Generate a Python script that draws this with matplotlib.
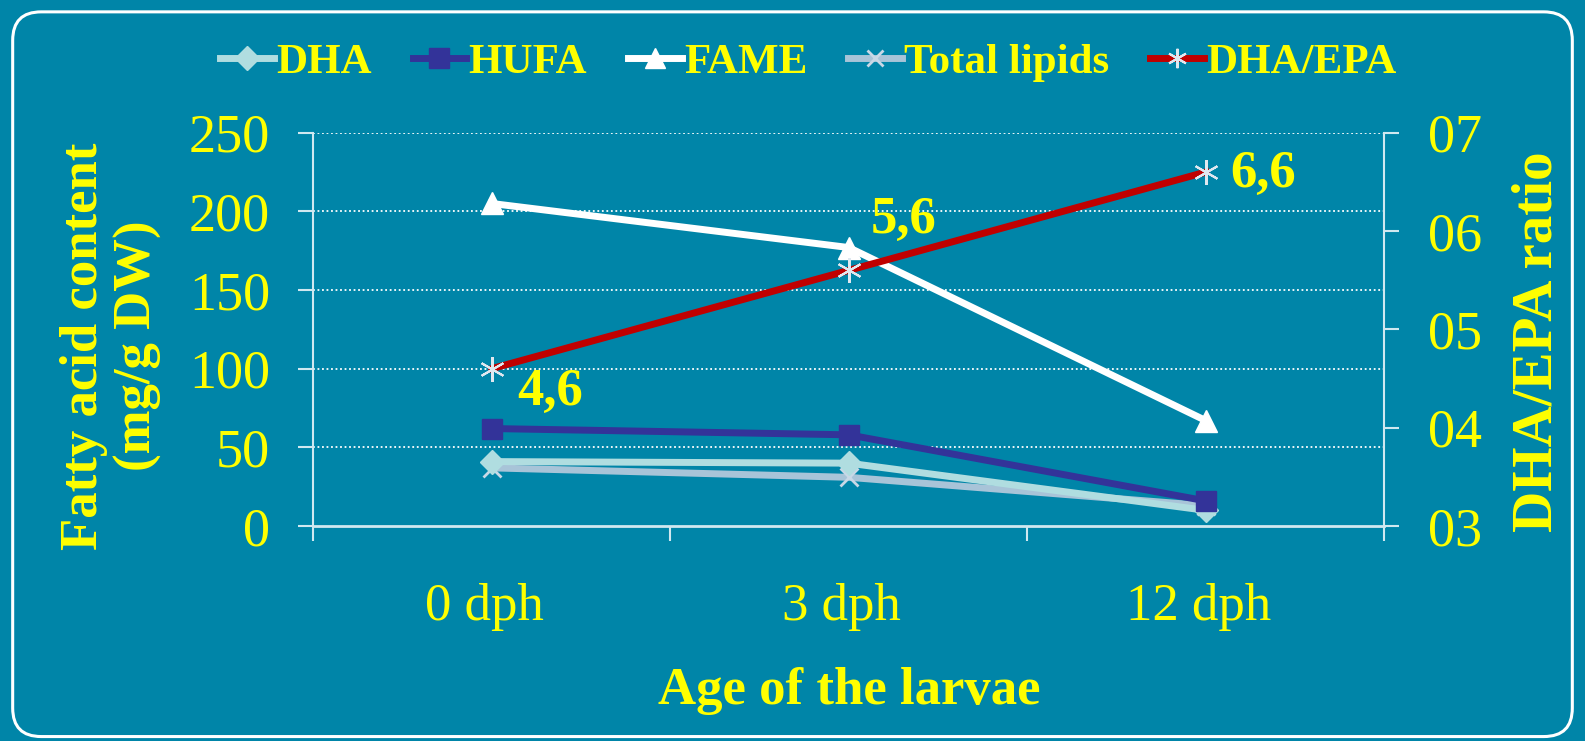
import matplotlib
matplotlib.use("Agg")
import matplotlib.pyplot as plt
from matplotlib.patches import FancyBboxPatch
from matplotlib.lines import Line2D

categories = ["0 dph", "3 dph", "12 dph"]
dha = [41, 40, 10]
hufa = [62, 58, 16]
fame = [205, 177, 67]
total_lipids = [37, 31, 13]
dha_epa = [4.6, 5.6, 6.6]
dha_epa_labels = ["4,6", "5,6", "6,6"]
left_ticks = [0, 50, 100, 150, 200, 250]
right_ticks = [3, 4, 5, 6, 7]
right_tick_labels = ["03", "04", "05", "06", "07"]

BG = "#0085A8"
YEL = "#FFFF00"
TICKC = "#D0E8F0"
FONT = "Liberation Serif"

fig = plt.figure(figsize=(15.85, 7.41), dpi=100, facecolor=BG)
border = FancyBboxPatch((0.008, 0.006), 0.984, 0.978,
                        boxstyle="round,pad=0,rounding_size=0.018",
                        transform=fig.transFigure, facecolor="none",
                        edgecolor="white", linewidth=2.2, mutation_aspect=15.85/7.41)
fig.patches.append(border)

ax = fig.add_axes([0.1975, 0.29, 0.676, 0.531])
ax.set_facecolor(BG)
x = [0, 1, 2]
ax.set_xlim(-0.5, 2.5)
ax.set_ylim(0, 250)

LW = 5
ax.plot(x, total_lipids, color="#A8C4D8", lw=LW, marker="x", ms=13, mew=2,
        mec="#C8D8E6", zorder=3)
ax.plot(x, dha, color="#B0DDE0", lw=LW, marker="D", ms=12, zorder=4)
ax.plot(x, hufa, color="#333399", lw=LW, marker="s", ms=15, zorder=5)
ax.plot(x, fame, color="white", lw=LW, marker="^", ms=16, zorder=5)

ax2 = ax.twinx()
ax2.set_ylim(3, 7)
ax2.plot(x, dha_epa, color="#C00000", lw=LW, marker=(6, 2, 0), ms=18, mew=1.5,
         mec="#E0E8F0", zorder=6)
offsets = [(0.073, -0.24), (0.062, 0.51), (0.067, -0.02)]
for xi, yi, lab, (dx, dy) in zip(x, dha_epa, dha_epa_labels, offsets):
    ax2.text(xi + dx, yi + dy, lab, color=YEL, fontsize=38, fontweight="bold",
             family=FONT, va="center", ha="left")

for a in (ax, ax2):
    for s in a.spines.values():
        s.set_visible(False)

ax.spines["left"].set_visible(True)
ax.spines["left"].set_color(TICKC)
ax.spines["left"].set_linewidth(1.5)
ax.spines["bottom"].set_visible(True)
ax.spines["bottom"].set_color(TICKC)
ax.spines["bottom"].set_linewidth(2)
ax2.spines["right"].set_visible(True)
ax2.spines["right"].set_color(TICKC)
ax2.spines["right"].set_linewidth(1.5)

ax.set_yticks(left_ticks)
ax.set_yticklabels([str(t) for t in left_ticks])
ax2.set_yticks(right_ticks)
ax2.set_yticklabels(right_tick_labels)
for a in (ax, ax2):
    a.tick_params(axis="y", colors=TICKC, labelcolor=YEL, labelsize=39,
                  length=11, width=1.5, direction="out", pad=20)
    for lab in a.get_yticklabels():
        lab.set_family(FONT)

ax.set_xticks([-0.5, 0.5, 1.5, 2.5])
ax.set_xticklabels([])
ax.tick_params(axis="x", colors=TICKC, length=11, width=1.5, direction="out")
for xi, c in zip(x, categories):
    ax.text(xi - 0.02, -0.205, c, transform=ax.get_xaxis_transform(), ha="center",
            va="center", color=YEL, fontsize=38, family=FONT)

for t in [50, 100, 150, 200, 250]:
    ax.axhline(t, color="white", lw=1.3, ls=(0, (1, 1.5)), zorder=1)

fig.text(0.536, 0.067, "Age of the larvae", color=YEL, fontsize=38,
         fontweight="bold", family=FONT, ha="center", va="center")
fig.text(0.070, 0.533, "Fatty acid content\n(mg/g DW)", color=YEL, fontsize=38,
         fontweight="bold", family=FONT, ha="center", va="center", rotation=90,
         linespacing=1.15)
fig.text(0.970, 0.539, "DHA/EPA ratio", color=YEL, fontsize=41,
         fontweight="bold", family=FONT, ha="center", va="center", rotation=90)

handles = [
    Line2D([], [], color="#B0DDE0", lw=LW, marker="D", ms=12),
    Line2D([], [], color="#333399", lw=LW, marker="s", ms=15),
    Line2D([], [], color="white", lw=LW, marker="^", ms=15),
    Line2D([], [], color="#A8C4D8", lw=LW, marker="x", ms=12, mew=2, mec="#C8D8E6"),
    Line2D([], [], color="#C00000", lw=LW, marker=(6, 2, 0), ms=14, mew=1.5, mec="#E0E8F0"),
]
labels = ["DHA", "HUFA", "FAME", "Total lipids", "DHA/EPA"]
leg = fig.legend(handles, labels, loc="center", bbox_to_anchor=(0.51, 0.916),
                 ncol=5, frameon=False, handlelength=1.25, handletextpad=0.05,
                 columnspacing=0.95, prop={"family": FONT, "weight": "bold", "size": 31})
for t in leg.get_texts():
    t.set_color(YEL)

fig.savefig("out.png", dpi=100, facecolor=BG)
